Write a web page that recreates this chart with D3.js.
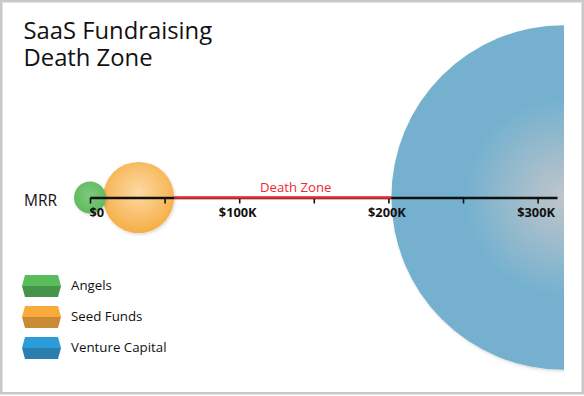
<!DOCTYPE html>
<html>
<head>
<meta charset="utf-8">
<script src="https://cdn.jsdelivr.net/npm/d3@7"></script>
<style>
  body { margin: 0; background: #fff; }
  text { font-family: "Open Sans", sans-serif; }
</style>
</head>
<body>
<svg id="chart" width="584" height="396"></svg>
<script>
// data (MRR in dollars)
const funders = ["Angels", "Seed Funds", "Venture Capital"];
const mrrFrom = [-10700, 8700, 202000];
const mrrTo = [10700, 56400, 433000];
const tickValues = [0, 50000, 100000, 150000, 200000, 250000, 300000];
const tickLabels = ["$0", "", "$100K", "", "$200K", "", "$300K"];
const deathZone = [56400, 202000];
const deathZoneLabelAt = 137900;
const titleLines = ["SaaS Fundraising", "Death Zone"];

const svg = d3.select("#chart");
const axisY = 197.5;

// colours per funder: bubble base, bubble highlight, legend top, legend bottom
const bubbleColor = ["#5db85c", "#f6a93b", "#75b1cf"];
const bubbleLight = ["#7fca7d", "#fcd9a3", "#c0c5ca"];
const legendTop = ["#59bc59", "#f8ab3a", "#2a9cd8"];
const legendBottom = ["#46944a", "#c98a35", "#2b7eae"];

let x = d3.scaleLinear()
    .domain([0, 313000])
    .range([90, 557]);

let defs = svg.append("defs");
defs.append("clipPath").attr("id", "plotClip")
    .append("rect").attr("x", 0).attr("y", 0).attr("width", 564).attr("height", 396);

// radial gradients for the bubbles (cx, cy, r, where the base colour starts)
let gradCenter = [[50, 45, 60, 1], [50, 42, 65, 1], [50, 50, 38, 0.75]];
funders.forEach((f, i) => {
    let g = defs.append("radialGradient").attr("id", "grad" + i)
        .attr("cx", gradCenter[i][0] + "%").attr("cy", gradCenter[i][1] + "%")
        .attr("r", gradCenter[i][2] + "%");
    g.append("stop").attr("offset", "0%").attr("stop-color", bubbleLight[i]);
    g.append("stop").attr("offset", gradCenter[i][3] * 100 + "%").attr("stop-color", bubbleColor[i]);
});

let shadow = defs.append("filter").attr("id", "shadow")
    .attr("x", "-10%").attr("y", "-10%").attr("width", "130%").attr("height", "130%");
shadow.append("feDropShadow").attr("dx", 1).attr("dy", 1.5).attr("stdDeviation", 1.5)
    .attr("flood-color", "#000").attr("flood-opacity", 0.15);

// frame
svg.append("rect")
    .attr("x", 1.25).attr("y", 1.25).attr("width", 581.5).attr("height", 392)
    .attr("fill", "#fff").attr("stroke", "#c9c9c9").attr("stroke-width", 2.5);

// title, two lines in one text
svg.append("text")
    .attr("font-size", 23.8).attr("fill", "#111")
    .selectAll("tspan")
    .data(titleLines)
    .enter().append("tspan")
    .attr("x", 23.5)
    .attr("y", (d, i) => 39 + i * 27)
    .text(d => d);

// bubbles: each one spans its MRR range along the axis
let bubbles = svg.append("g").attr("clip-path", "url(#plotClip)");
bubbles.selectAll("circle")
    .data(funders.map((f, i) => i).reverse())
    .enter().append("circle")
    .attr("cx", i => (x(mrrFrom[i]) + x(mrrTo[i])) / 2)
    .attr("cy", axisY)
    .attr("r", i => (x(mrrTo[i]) - x(mrrFrom[i])) / 2)
    .attr("fill", i => "url(#grad" + i + ")")
    .attr("filter", "url(#shadow)");

// axis
let axis = d3.axisBottom(x)
    .tickValues(tickValues)
    .tickSize(6)
    .tickSizeOuter(0)
    .tickPadding(4.5)
    .tickFormat((d, i) => tickLabels[i]);

let axisG = svg.append("g")
    .attr("transform", `translate(0,${axisY})`)
    .call(axis);
axisG.select(".domain").attr("stroke", "#111").attr("stroke-width", 2.6);
axisG.selectAll(".tick line").attr("stroke", "#111").attr("stroke-width", 1.6);
axisG.selectAll(".tick text")
    .attr("font-family", "'Open Sans', sans-serif")
    .attr("font-size", 12.8).attr("font-weight", "bold").attr("fill", "#111")
    .attr("dx", (d, i) => i === 0 ? -1 : -2)
    .attr("text-anchor", (d, i) => i === 0 ? "start" : "middle");

// death zone
svg.append("line")
    .attr("x1", x(deathZone[0])).attr("x2", x(deathZone[1]))
    .attr("y1", axisY).attr("y2", axisY)
    .attr("stroke", "#ee2b2f").attr("stroke-width", 2.6);
svg.append("text")
    .attr("x", x(deathZoneLabelAt)).attr("y", 192)
    .attr("text-anchor", "middle").attr("font-size", 13.2).attr("fill", "#ee2b2f")
    .text("Death Zone");

// MRR label
svg.append("text").attr("x", 24).attr("y", 206)
    .attr("font-size", 15.5).attr("fill", "#111").text("MRR");

// legend
let legend = svg.append("g").attr("transform", "translate(22,275)");
let rows = legend.selectAll("g")
    .data(funders)
    .enter().append("g")
    .attr("transform", (d, i) => `translate(0,${i * 31})`);
const sw = 39, sh = 22, ch = 3;
rows.append("path")
    .attr("d", `M${ch},0 L${sw - ch},0 L${sw},${sh / 2} L0,${sh / 2} Z`)
    .attr("fill", (d, i) => legendTop[i]);
rows.append("path")
    .attr("d", `M0,${sh / 2} L${sw},${sh / 2} L${sw - ch},${sh} L${ch},${sh} Z`)
    .attr("fill", (d, i) => legendBottom[i]);
rows.append("text")
    .attr("x", 49).attr("y", 15)
    .attr("font-size", 13.3).attr("fill", "#111")
    .text(d => d);
</script>
</body>
</html>
